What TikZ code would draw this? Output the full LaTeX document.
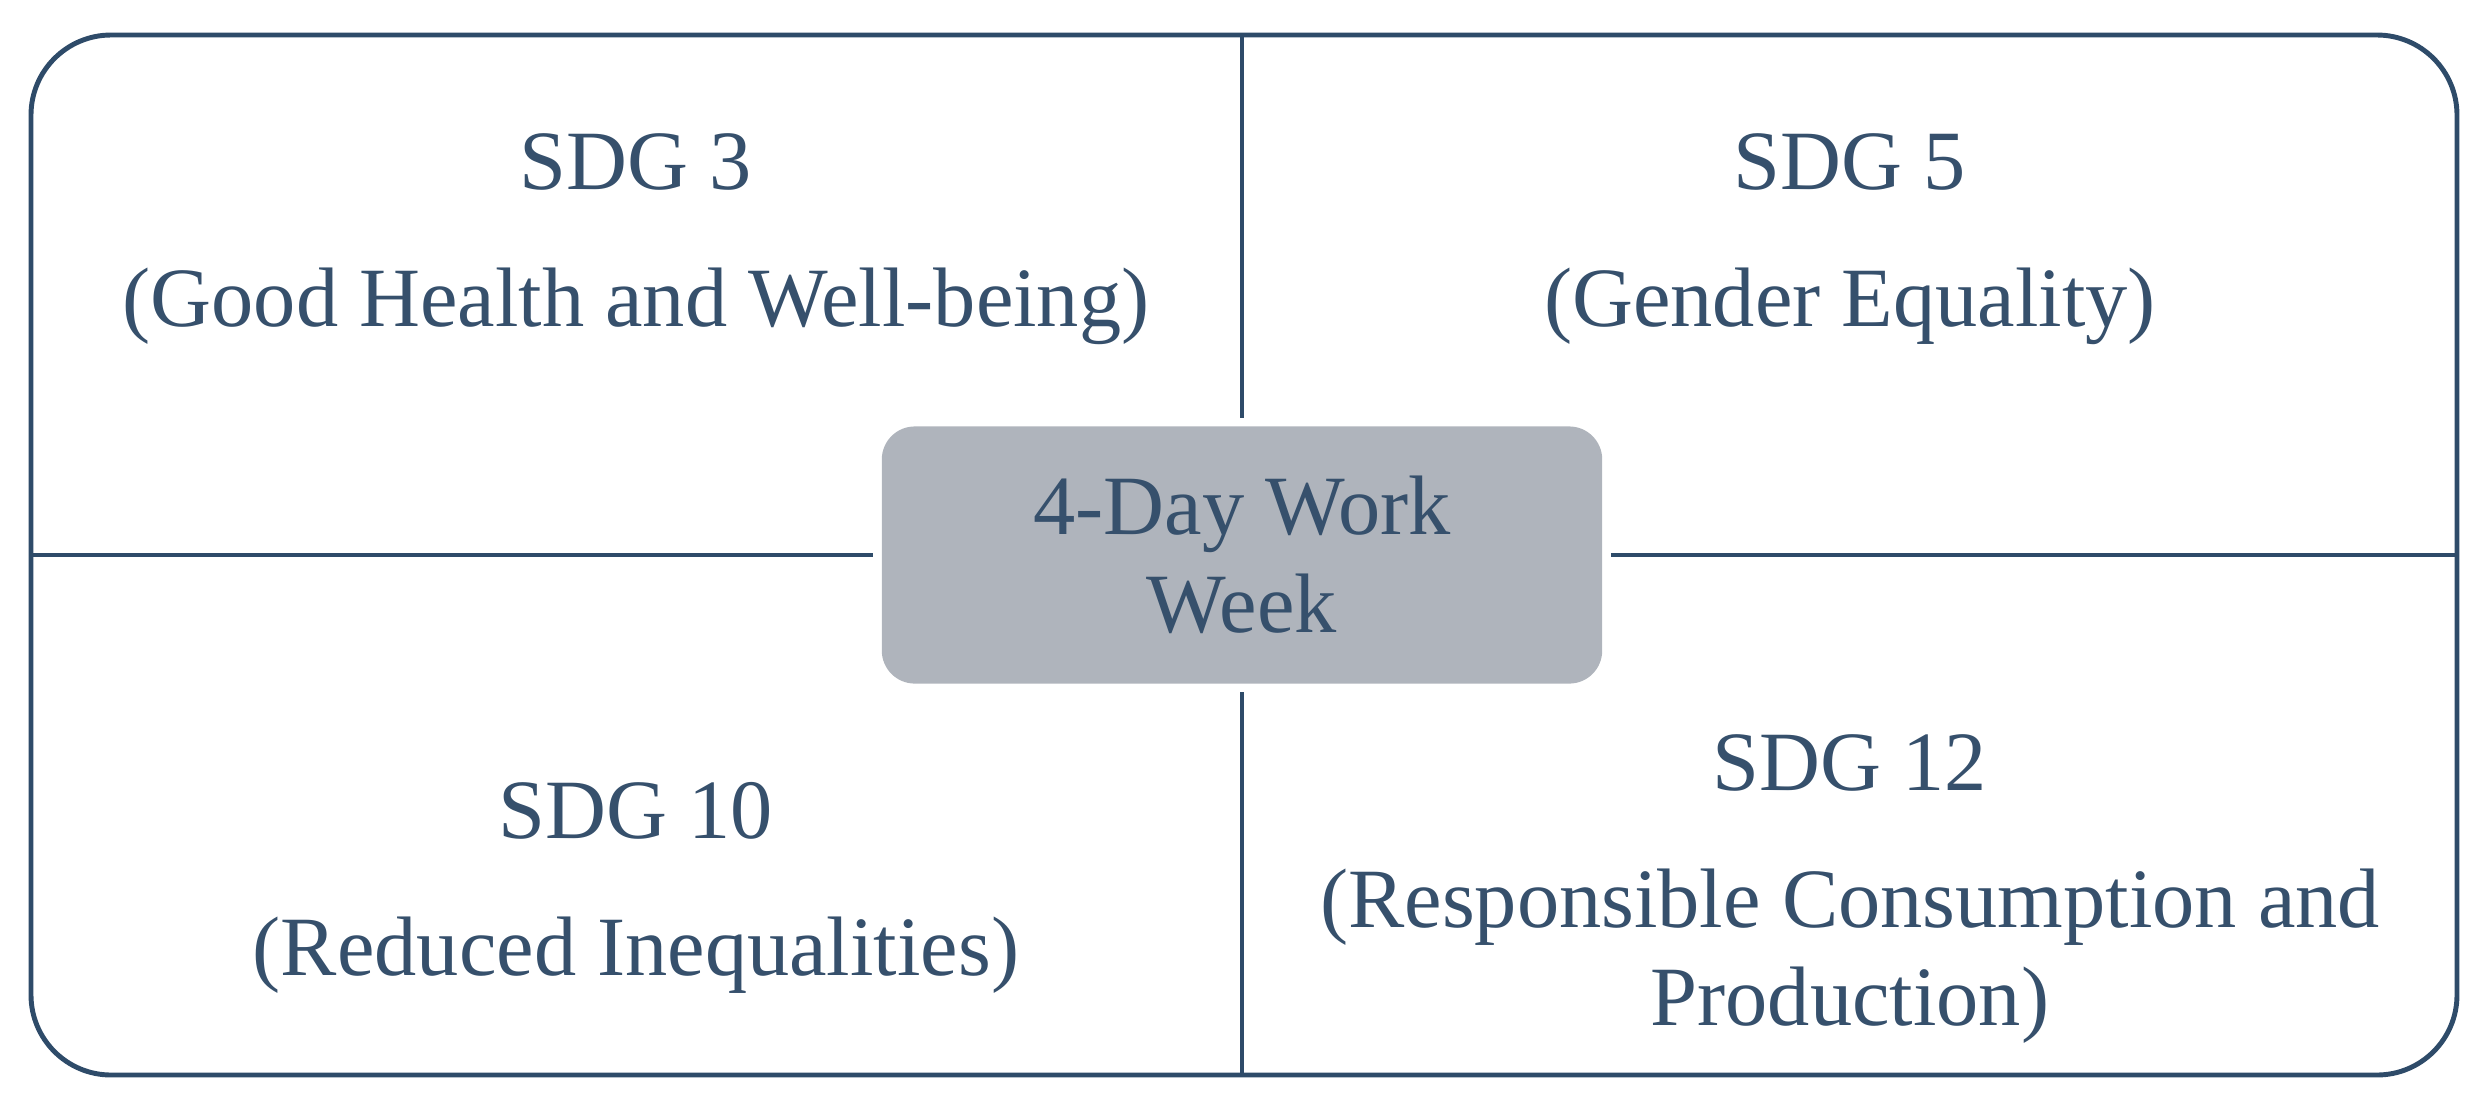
\documentclass[tikz,border=0pt]{standalone}
\usepackage{fontspec}
\setmainfont{Liberation Serif}
\usetikzlibrary{positioning}
\definecolor{sdgline}{HTML}{2E4B69}
\definecolor{sdgtext}{HTML}{36506C}
\definecolor{sdgfill}{HTML}{AFB4BC}
\begin{document}
\begin{tikzpicture}[x=0.01cm,y=-0.01cm,
		frameline/.style={draw=sdgline,line width=1.4pt},
		quadtext/.style={text=sdgtext,align=center,font=\fontsize{24}{28}\selectfont},
		centerbox/.style={fill=sdgfill,rounded corners=0.33cm,minimum width=7.2cm,minimum height=2.57cm,text=sdgtext,align=center,font=\fontsize{24}{28}\selectfont}]
		\useasboundingbox (0,0) rectangle (2481,1108);
		\draw[frameline,rounded corners=0.8cm] (31,35) rectangle (2457,1075);

		\node[centerbox]					(week)	at (1242,555)	{4-Day Work\\Week};

		\coordinate							(top)	at (1242,35);
		\coordinate							(bottom) at (1242,1075);
		\coordinate							(left)	at (31,555);
		\coordinate							(right)	at (2457,555);

		\draw[frameline] (top) -- ([yshift=0.08cm]week.north);
		\draw[frameline] ([yshift=-0.08cm]week.south) -- (bottom);
		\draw[frameline] (left) -- ([xshift=-0.08cm]week.west);
		\draw[frameline] ([xshift=0.08cm]week.east) -- (right);

		\node[quadtext]						(sdg3)	at (636,239)	{SDG 3\\[11pt](Good Health and Well-being)};
		\node[quadtext]						(sdg5)	at (1850,239)	{SDG 5\\[11pt](Gender Equality)};
		\node[quadtext]						(sdg10)	at (636,888)	{SDG 10\\[11pt](Reduced Inequalities)};
		\node[quadtext]						(sdg12)	at (1850,889)	{SDG 12\\[11pt](Responsible Consumption and\\Production)};
	\end{tikzpicture}
\end{document}
